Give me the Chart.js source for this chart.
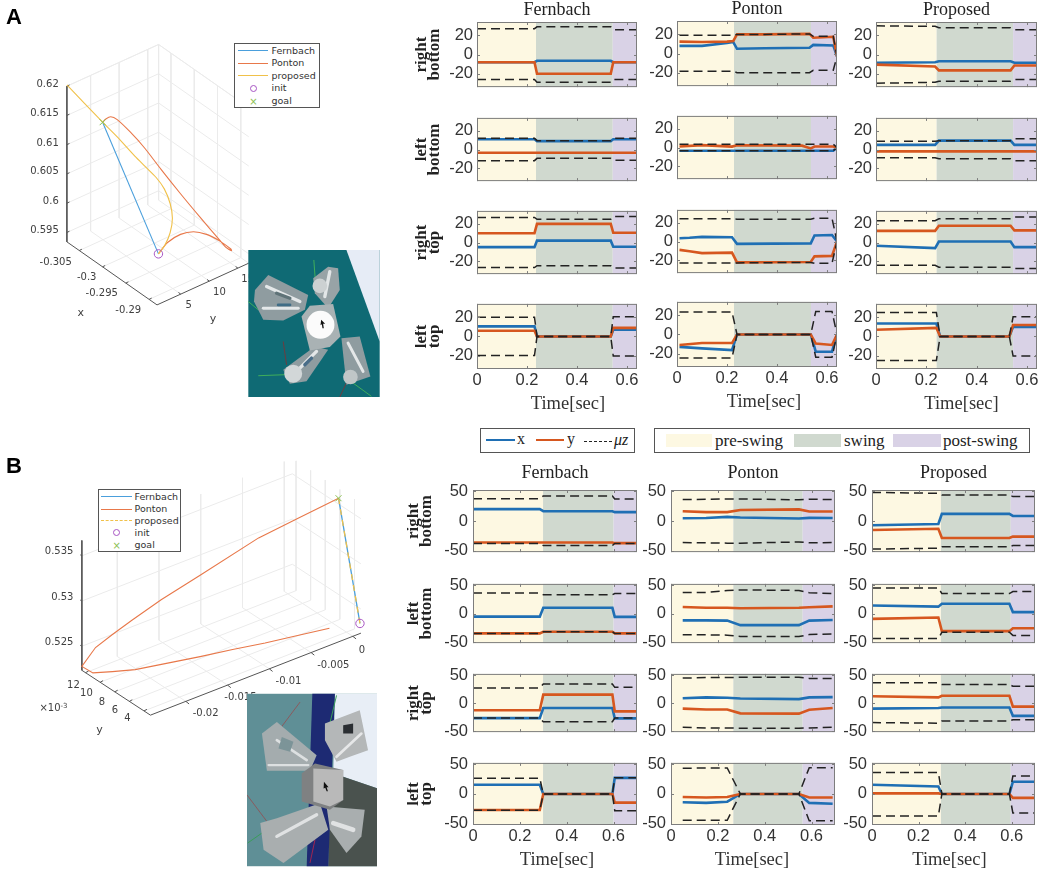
<!DOCTYPE html>
<html><head><meta charset="utf-8">
<script src="https://cdn.jsdelivr.net/npm/chart.js@4"></script>
<style>
html,body{margin:0;padding:0;background:#fff;width:1038px;height:871px;overflow:hidden}
canvas{position:absolute}
.box{position:absolute;box-sizing:border-box;border:1.5px solid #555;background:#fff}
.t{position:absolute;white-space:nowrap;line-height:1}
.s{font-family:"Liberation Serif",serif;font-size:17px;color:#222}
.d{font-family:"DejaVu Sans",sans-serif;font-size:9.5px;color:#333}
.lab{position:absolute;font:bold 22px "Liberation Sans",sans-serif;color:#000;line-height:1}
svg{position:absolute}
</style></head><body>
<div id="root"></div>
<script>
/* ---------- shared tick labels ---------- */
const colTitles=["Fernbach","Ponton","Proposed"];
const rowTitles=[["right","bottom"],["left","bottom"],["right","top"],["left","top"]];
const timeTicks=[0,0.2,0.4,0.6];
const forceTicksA=[-20,0,20];
const forceTicksB=[-50,0,50];
const phaseNames=["pre-swing","swing","post-swing"];
/* ---------- phase boundaries [swing start, swing end] ---------- */
const phaseAF=[.236,.543],phaseAP=[.228,.536],phaseAQ=[.241,.545];
const phaseBF=[.299,.60],phaseBP=[.266,.562],phaseBQ=[.296,.596];

/* ---------- A / Fernbach ---------- */
const tAF=[0,.23,.24,.535,.545,.64];
const AF_RB_x=[-8,-8,-6.5,-6.5,-8,-8],AF_RB_y=[-8,-8,-20,-20,-8,-8],AF_RB_up=[27,27,29,29,26,26],AF_RB_lo=[-26,-26,-29,-29,-26,-26];
const AF_LB_x=[11,11,9,9,11,11],AF_LB_y=[-3.5,-3.5,-3.5,-3.5,-3.5,-3.5],AF_LB_up=[12,12,9.5,9.5,12,12],AF_LB_lo=[-12,-12,-9.5,-9.5,-11.5,-11.5];
const AF_RT_x=[-5,-5,2,2,-4.5,-4.5],AF_RT_y=[10,10,20,20,10.5,10.5],AF_RT_up=[27,27,25,25,28,28],AF_RT_lo=[-27,-27,-25,-25,-27.5,-27.5];
const AF_LT_x=[10.5,10.5,0,0,7,7],AF_LT_y=[6,6,0,0,9,9],AF_LT_up=[20,20,0,0,20.5,20.5],AF_LT_lo=[-20,-20,0,0,-20.5,-20.5];
/* ---------- A / Ponton ---------- */
const tAP_RB=[.01,.1,.2,.225,.24,.35,.53,.545,.625,.64];
const AP_RB_x=[8,8,11,12,5,5.5,6,9,8.5,-3],AP_RB_y=[12.5,12,12.5,13,20,20,20.5,16.5,17.5,-3],AP_RB_up=[19,19,19,19,20,20,20.5,18,18,-3],AP_RB_lo=[-18.5,-18.5,-18.5,-18.5,-20,-20,-20,-17.5,-17.5,-3];
const tAP_LB=[.01,.1,.22,.24,.5,.535,.55,.625,.64];
const AP_LB_x=[-3.5,-3.5,-3.5,-3.5,-3.5,-3.5,-3.5,-3.5,0],AP_LB_y=[1,2.5,1,2.5,2,-1,1,1,0],AP_LB_up=[3.5,3.5,3.5,3.5,3.5,3.5,3.5,3.5,0],AP_LB_lo=[-3.5,-3.5,-3.5,-3.5,-3.5,-3.5,-3.5,-3.5,0];
const tAP_RT=[.01,.05,.1,.22,.24,.535,.55,.62,.64];
const AP_RT_x=[3.5,4,5,4.5,-2.5,-2,6.5,7,0],AP_RT_y=[-9,-10.5,-12.5,-12,-22.5,-22,-16,-15.5,0],AP_RT_up=[24.5,24.5,24.5,24.5,24,24,25,25,0],AP_RT_lo=[-23,-23,-23,-23,-23,-22.5,-23.5,-23.5,0];
const tAP_LT=[.01,.1,.22,.24,.535,.555,.62,.64];
const AP_LT_x=[-13,-14.5,-16.3,0,0,-18,-18,0],AP_LT_y=[-11,-9,-9,0,0,-9.5,-11,0],AP_LT_up=[23.5,23.5,23.5,0,0,24,24,0],AP_LT_lo=[-24.5,-24.5,-24.5,0,0,-23.7,-23.7,0];
/* ---------- A / Proposed ---------- */
const tAQ=[0,.235,.25,.535,.55,.64];
const AQ_RB_x=[-8.5,-8,-7,-7,-8.5,-8.5],AQ_RB_y=[-10.5,-12.5,-16.5,-16.5,-11.5,-11.5],AQ_RB_up=[30,29.5,28,28,26,26],AQ_RB_lo=[-30,-29,-28,-28,-26,-26];
const AQ_LB_x=[5,5,9.5,9.5,5,5],AQ_LB_y=[-2,-2,-2,-2,-2,-2],AQ_LB_up=[9,9,9.5,9.5,11.5,11.5],AQ_LB_lo=[-9,-9,-10,-10,-12,-12];
const AQ_RT_x=[-3.5,-6,1,1,-5,-5],AQ_RT_y=[12.5,12.5,18,18,13,13],AQ_RT_up=[23.5,23.5,25.5,25.5,27.5,27.5],AQ_RT_lo=[-24.5,-24.5,-26.5,-26.5,-28,-28];
const tAQ_LT=[0,.24,.255,.53,.545,.64];
const AQ_LT_x=[13.5,13.5,0,0,10,10],AQ_LT_y=[7,9,0,0,12,12],AQ_LT_up=[25,25,0,0,20.5,20.5],AQ_LT_lo=[-25,-25,0,0,-20.5,-20.5];
/* ---------- B / Fernbach ---------- */
const tBF=[0,.285,.3,.595,.605,.7];
const BF_RB_x=[20,20,16.5,16.5,15,15],BF_RB_y=[-36,-36,-36,-36,-37,-37],BF_RB_up=[37.5,37.5,42,42,37,37],BF_RB_lo=[-37.5,-37.5,-41,-41,-37.5,-37.5];
const BF_LB_x=[-5.5,-5.5,10,10,-6,-6],BF_LB_y=[-35,-35,-32,-32,-35,-35],BF_LB_up=[36,36,33,33,35,35],BF_LB_lo=[-35,-35,-32,-32,-35,-35];
const BF_RT_x=[-27,-27,-9,-9,-27.5,-27.5],BF_RT_y=[-13,-13,15,15,-15,-15],BF_RT_up=[27,27,34,34,28,28],BF_RT_lo=[-27,-27,-33.5,-33.5,-27,-27];
const BF_LT_x=[15.5,15.5,0,0,27,27],BF_LT_y=[-27,-27,0,0,-14.5,-14.5],BF_LT_up=[26.5,26.5,0,0,27,27],BF_LT_lo=[-27.5,-27.5,0,0,-28,-28];
/* ---------- B / Ponton ---------- */
const tBP=[.05,.15,.24,.296,.546,.59,.69];
const BP_RB_x=[4.8,5,7,6,4.3,5.3,5],BP_RB_y=[16.5,15,15,18.5,19.5,16,16],BP_RB_up=[36,36.5,37,37,35.5,36.5,36],BP_RB_lo=[-36,-36.5,-37,-37,-35,-36.5,-36];
const BP_LB_x=[-12,-12,-12.5,-20.5,-20.5,-12.5,-11.5],BP_LB_y=[11.5,10,10,9.3,10,11,12.5],BP_LB_up=[37,37,40.5,41.5,40.5,36.5,35],BP_LB_lo=[-37.5,-37.5,-38,-40.5,-40.5,-37,-36];
const BP_RT_x=[8.5,10,9.5,8,7,10,10.5],BP_RT_y=[-10,-11.7,-11.7,-18.5,-19,-12,-9],BP_RT_up=[44.5,45.5,45.5,46,46,44,44],BP_RT_lo=[-43.5,-44.5,-44.5,-45,-45,-44.5,-43.5];
const BP_LT_x=[-14,-15,-13,0,0,-15,-16.5],BP_LT_y=[-5,-6,-5,0,0,-6,-6],BP_LT_up=[43,43.5,43.5,0,0,44,44],BP_LT_lo=[-44,-44,-44,0,0,-45,-45];
/* ---------- B / Proposed ---------- */
const tBQ=[0,.285,.3,.59,.605,.7];
const BQ_RB_x=[-7,-5,12,12,8.5,8.5],BQ_RB_y=[-15,-13,-28.5,-28.5,-26,-26],BQ_RB_up=[48,46.5,43.5,43.5,41,41],BQ_RB_lo=[-47,-45.5,-43,-43,-41,-41];
const BQ_LB_x=[14,12,17,17,2.5,2.5],BQ_LB_y=[-9.5,-7,-31,-31,-26,-26],BQ_LB_up=[45,45,35,35,38.5,38.5],BQ_LB_lo=[-44,-44,-33,-33,-38.5,-38.5];
const BQ_RT_x=[-10,-9,-8,-8,-23,-23],BQ_RT_y=[12,10,13,13,-6.5,-6.5],BQ_RT_up=[36,36,33,33,30,30],BQ_RT_lo=[-35,-36,-32,-32,-30,-30];
const BQ_LT_x=[15.5,12.5,0,0,20.5,20.5],BQ_LT_y=[1,1,0,0,-6.5,-6.5],BQ_LT_up=[36,36,0,0,30,30],BQ_LT_lo=[-37,-37,0,0,-32,-32];

/* ---------- 3-D views: curves as read in the projected view ---------- */
const A3_fern_h=[472,300],A3_fern_v=[765,360];
const A3_prop_h=[472,492,508,515,508,490,465,430,400,345,300,190];
const A3_prop_v=[765,738,700,655,610,565,530,495,465,405,360,245];
const A3_pont_h=[472,500,540,580,620,660,695,697,680,660,600,540,480,430,385,345,325,310,300];
const A3_pont_v=[765,730,705,697,705,725,750,755,745,722,652,580,505,440,390,352,343,350,360];
const A3_init=[472,765],A3_goal=[300,360];
const B3_fern_h=[1026,1092],B3_fern_v=[163,548];
const B3_pont_h=[1026,900,780,600,480,390,330,278,236,270,330,400,500,600,700,800,900,998];
const B3_pont_v=[163,225,285,400,475,538,582,622,680,700,696,690,670,650,628,608,585,563];
const B3_init=[1092,548],B3_goal=[1026,163];
const A3_xTicks=[-.305,-.3,-.295,-.29],A3_yTicks=[5,10,15],A3_zTicks=[.595,.6,.605,.61,.615,.62];
const B3_xTicks=[-.02,-.015,-.01,-.005,0],B3_yTicks=[4,6,8,10,12],B3_zTicks=[.525,.53,.535];
const curveNames=["Fernbach","Ponton","proposed","init","goal"];

/* ---------- styles ---------- */
const BLUE="#1f6fb4",ORANGE="#d6571f",DASH="#222",PRE="#fdf8e2",SWING="#d0d9cf",POST="#d9d2e6",FRAME="#7d7d7d";
const root=document.getElementById('root');

const decor={id:'decor',
 beforeDatasetsDraw(c,a,o){const {left:l,right:r,top:t,bottom:b}=c.chartArea,x=c.scales.x,g=c.ctx;
  const p0=x.getPixelForValue(o.phase[0]),p1=x.getPixelForValue(o.phase[1]);
  g.save();g.fillStyle=PRE;g.fillRect(l,t,p0-l,b-t);g.fillStyle=SWING;g.fillRect(p0,t,p1-p0,b-t);g.fillStyle=POST;g.fillRect(p1,t,r-p1,b-t);g.restore();},
 afterDatasetsDraw(c,a,o){const {left:l,right:r,top:t,bottom:b}=c.chartArea,g=c.ctx;
  g.save();g.strokeStyle=FRAME;g.lineWidth=1;g.strokeRect(l+.5,t+.5,r-l-1,b-t-1);g.beginPath();
  c.scales.x.ticks.forEach(k=>{const p=Math.round(c.scales.x.getPixelForValue(k.value))+.5;g.moveTo(p,b);g.lineTo(p,b-3);g.moveTo(p,t);g.lineTo(p,t+3);});
  c.scales.y.ticks.forEach(k=>{const p=Math.round(c.scales.y.getPixelForValue(k.value))+.5;g.moveTo(l,p);g.lineTo(l+3,p);g.moveTo(r,p);g.lineTo(r-3,p);});
  g.stroke();
  if(o.timeLabel){g.fillStyle='#333';g.font='18.5px "Liberation Serif",serif';g.textAlign='center';g.textBaseline='middle';g.fillText(o.timeLabel,(l+r)/2+o.dx,b+o.dy);}
  g.restore();}};

function xy(t,v){return t.map((q,i)=>({x:q,y:v[i]}));}
function makeCanvas(l,t,w,h){const c=document.createElement('canvas');c.style.left=l+'px';c.style.top=t+'px';c.style.width=w+'px';c.style.height=h+'px';c.width=w;c.height=h;root.appendChild(c);return c;}

function panel(g,col,row,phase,t,xs,ys,up,lo){
 const L=g.cols[col][0],R=g.cols[col][1],T=g.rows[col][row][0],B=g.rows[col][row][1];
 const isTop=row===0,isBot=row===3,first=col===0;
 const leftW=first?g.leftFirst:42,rightW=4,topH=isTop?g.titleH:12,botH=isBot?g.botH:12;
 const c=makeCanvas(L-leftW,T-topH,leftW+(R-L)+rightW,topH+(B-T)+botH);
 new Chart(c,{type:'scatter',plugins:[decor],
  data:{datasets:[
   {label:'x',order:3,data:xy(t,xs),borderColor:BLUE,borderWidth:2.6,showLine:true,pointRadius:0,tension:0},
   {label:'y',order:2,data:xy(t,ys),borderColor:ORANGE,borderWidth:2.6,showLine:true,pointRadius:0,tension:0},
   {label:'μz',order:1,data:xy(t,up),borderColor:DASH,borderWidth:1.5,borderDash:[9,5],showLine:true,pointRadius:0,tension:0},
   {label:'-μz',order:0,data:xy(t,lo),borderColor:DASH,borderWidth:1.5,borderDash:[9,5],showLine:true,pointRadius:0,tension:0}]},
  options:{responsive:false,animation:false,devicePixelRatio:1,
   layout:{padding:{top:isTop?0:topH,right:rightW,left:0,bottom:0}},
   plugins:{legend:{display:false},tooltip:{enabled:false},decor:{phase,timeLabel:isBot?'Time[sec]':null,dx:g.timeDx[col],dy:g.timeDy},
    title:{display:isTop,fullSize:false,text:colTitles[col],color:'#222',font:{family:'"Liberation Serif",serif',size:18,lineHeight:1,weight:'normal'},padding:g.titlePad}},
   scales:{
    x:{type:'linear',min:0,max:g.xMax,grid:{display:false,drawTicks:false},border:{display:false},
     afterBuildTicks:s=>{s.ticks=timeTicks.map(v=>({value:v}));},
     afterFit:s=>{s.height=botH;},
     ticks:{display:isBot,autoSkip:false,maxRotation:0,padding:2,color:'#333',font:{family:'"Liberation Sans",sans-serif',size:16.5},callback:v=>String(v)}},
    y:{type:'linear',min:-g.yMax,max:g.yMax,grid:{display:false,drawTicks:false},border:{display:false},
     afterBuildTicks:s=>{s.ticks=g.yTicks.map(v=>({value:v}));},
     afterFit:s=>{s.width=leftW;},
     ticks:{padding:g.yPad,color:'#333',font:{family:'"Liberation Sans",sans-serif',size:16.5},callback:v=>String(v)},
     title:{display:first,text:rowTitles[row],color:'#222',padding:0,font:{family:'"Liberation Serif",serif',size:17,weight:'bold',lineHeight:.76}}}
   }}});
}

const gA={cols:[[477,637],[677,837],[876,1037]],
 rows:[[[22,89],[116,183],[209,276],[302,369]],[[21,88],[114,181],[208,275],[300,367]],[[22,89],[116,183],[209,276],[302,369]]],
 leftFirst:62,titleH:22,titlePad:{top:1,bottom:3},botH:46,xMax:.64,yMax:34,yTicks:forceTicksA,yPad:4,timeDx:[11,7,5],timeDy:35};
const gB={cols:[[473,637],[671,835],[872,1035]],
 rows:[[[490,555],[581,646],[671,735],[760,825]],[[490,555],[581,646],[671,735],[760,825]],[[490,555],[581,646],[671,735],[760,825]]],
 leftFirst:66,titleH:30,titlePad:{top:4,bottom:8},botH:47,xMax:.7,yMax:52,yTicks:forceTicksB,yPad:5,timeDx:[2,-1,-4],timeDy:35.5};

panel(gA,0,0,phaseAF,tAF,AF_RB_x,AF_RB_y,AF_RB_up,AF_RB_lo);
panel(gA,0,1,phaseAF,tAF,AF_LB_x,AF_LB_y,AF_LB_up,AF_LB_lo);
panel(gA,0,2,phaseAF,tAF,AF_RT_x,AF_RT_y,AF_RT_up,AF_RT_lo);
panel(gA,0,3,phaseAF,tAF,AF_LT_x,AF_LT_y,AF_LT_up,AF_LT_lo);
panel(gA,1,0,phaseAP,tAP_RB,AP_RB_x,AP_RB_y,AP_RB_up,AP_RB_lo);
panel(gA,1,1,phaseAP,tAP_LB,AP_LB_x,AP_LB_y,AP_LB_up,AP_LB_lo);
panel(gA,1,2,phaseAP,tAP_RT,AP_RT_x,AP_RT_y,AP_RT_up,AP_RT_lo);
panel(gA,1,3,phaseAP,tAP_LT,AP_LT_x,AP_LT_y,AP_LT_up,AP_LT_lo);
panel(gA,2,0,phaseAQ,tAQ,AQ_RB_x,AQ_RB_y,AQ_RB_up,AQ_RB_lo);
panel(gA,2,1,phaseAQ,tAQ,AQ_LB_x,AQ_LB_y,AQ_LB_up,AQ_LB_lo);
panel(gA,2,2,phaseAQ,tAQ,AQ_RT_x,AQ_RT_y,AQ_RT_up,AQ_RT_lo);
panel(gA,2,3,phaseAQ,tAQ_LT,AQ_LT_x,AQ_LT_y,AQ_LT_up,AQ_LT_lo);
panel(gB,0,0,phaseBF,tBF,BF_RB_x,BF_RB_y,BF_RB_up,BF_RB_lo);
panel(gB,0,1,phaseBF,tBF,BF_LB_x,BF_LB_y,BF_LB_up,BF_LB_lo);
panel(gB,0,2,phaseBF,tBF,BF_RT_x,BF_RT_y,BF_RT_up,BF_RT_lo);
panel(gB,0,3,phaseBF,tBF,BF_LT_x,BF_LT_y,BF_LT_up,BF_LT_lo);
panel(gB,1,0,phaseBP,tBP,BP_RB_x,BP_RB_y,BP_RB_up,BP_RB_lo);
panel(gB,1,1,phaseBP,tBP,BP_LB_x,BP_LB_y,BP_LB_up,BP_LB_lo);
panel(gB,1,2,phaseBP,tBP,BP_RT_x,BP_RT_y,BP_RT_up,BP_RT_lo);
panel(gB,1,3,phaseBP,tBP,BP_LT_x,BP_LT_y,BP_LT_up,BP_LT_lo);
panel(gB,2,0,phaseBQ,tBQ,BQ_RB_x,BQ_RB_y,BQ_RB_up,BQ_RB_lo);
panel(gB,2,1,phaseBQ,tBQ,BQ_LB_x,BQ_LB_y,BQ_LB_up,BQ_LB_lo);
panel(gB,2,2,phaseBQ,tBQ,BQ_RT_x,BQ_RT_y,BQ_RT_up,BQ_RT_lo);
panel(gB,2,3,phaseBQ,tBQ,BQ_LT_x,BQ_LT_y,BQ_LT_up,BQ_LT_lo);

/* ---------- 3-D panels ---------- */
const GAP={x:NaN,y:NaN};
function hv(h,v){return h.map((q,i)=>({x:q,y:v[i]}));}
function poly(out,pts){pts.forEach(p=>out.push({x:p[0],y:p[1]}));out.push(GAP);}
const pA=(x,y,z)=>[190+(x+.30766)*14340+(y-.85)*17.6,728+(x+.30766)*10020-(y-.85)*8-(z-.5934)*18000];
const pB=(x,y,z)=>[236+(x+.02424)*25700+(12.5-y)*22.5,692-(x+.02424)*10000+(12.5-y)*14.7-(z-.52234)*27800];

function view(left,top,w,h,datasets,labels){
 const c=makeCanvas(left,top,w,h);
 new Chart(c,{type:'scatter',
  plugins:[{id:'labels3d',afterDatasetsDraw(ch){const g=ch.ctx,X=ch.scales.x,Y=ch.scales.y;g.save();g.fillStyle='#404040';g.textBaseline='middle';
    labels.forEach(l=>{g.font=(l[4]||10)+'px "DejaVu Sans",sans-serif';g.textAlign=l[3]||'center';g.fillText(l[0],X.getPixelForValue(l[1]),Y.getPixelForValue(l[2]));});g.restore();}}],
  data:{datasets},
  options:{responsive:false,animation:false,devicePixelRatio:1,layout:{padding:0},
   plugins:{legend:{display:false},tooltip:{enabled:false}},
   scales:{x:{type:'linear',display:false,min:0,max:w*3},y:{type:'linear',display:false,min:0,max:h*3,reverse:true}}}});
}
function ln(data,color,width,order,extra){return Object.assign({order,data,borderColor:color,borderWidth:width,showLine:true,pointRadius:0,tension:0,spanGaps:false},extra||{});}
function mark(p,style,color){return {order:0,data:[{x:p[0],y:p[1]}],showLine:false,pointStyle:style,pointRadius:4.2,borderColor:color,backgroundColor:'rgba(0,0,0,0)',borderWidth:1};}

/* panel A */
(function(){
 const xmin=-.30766,xmax=-.2883,ymin=.85,ymax=16.9,zmin=.5934,zmax=.62,grid=[],axes=[],ticks=[];
 A3_zTicks.forEach(z=>poly(grid,[pA(xmin,ymin,z),pA(xmin,ymax,z),pA(xmax,ymax,z)]));
 A3_yTicks.concat([ymax]).forEach(y=>{poly(grid,[pA(xmin,y,zmax),pA(xmin,y,zmin),pA(xmax,y,zmin)]);});
 A3_xTicks.forEach(x=>{poly(grid,[pA(x,ymax,zmax),pA(x,ymax,zmin),pA(x,ymin,zmin)]);});
 poly(grid,[pA(xmin,ymin,zmax),pA(xmin,ymax,zmax),pA(xmax,ymax,zmax)]);
 poly(axes,[pA(xmin,ymin,zmax),pA(xmin,ymin,zmin),pA(xmax,ymin,zmin),pA(xmax,ymax,zmin)]);
 A3_zTicks.forEach(z=>{const p=pA(xmin,ymin,z);poly(ticks,[p,[p[0]+8,p[1]-4]]);});
 A3_xTicks.forEach(x=>{const p=pA(x,ymin,zmin);poly(ticks,[p,[p[0]+8,p[1]-4]]);});
 A3_yTicks.forEach(y=>{const p=pA(xmax,y,zmin);poly(ticks,[p,[p[0]-7,p[1]-5]]);});
 const labels=[['0.62',165,245,'right'],['0.615',165,332,'right'],['0.61',165,424,'right'],['0.605',165,512,'right'],['0.6',165,603,'right'],['0.595',165,692,'right'],
  ['-0.305',205,790,'right'],['-0.3',281,838,'right'],['-0.295',347,888,'right'],['-0.29',419,938,'right'],['x',233,948,'center',11],
  ['5',565,925],['10',660,883],['15',747,842],['y',640,967,'center',11]];
 view(0,0,400,420,[
  ln(grid,'#ebebeb',1,9),ln(axes,'#555',1,8),ln(ticks,'#555',1,8),
  ln(hv(A3_fern_h,A3_fern_v),'#4a9fdc',1.1,3),ln(hv(A3_pont_h,A3_pont_v),'#e8784a',1.1,2,{tension:.25}),ln(hv(A3_prop_h,A3_prop_v),'#f0c14a',1.1,1,{tension:.25}),
  mark(A3_init,'circle','#a855c4'),mark(A3_goal,'crossRot','#8cc152')],labels);
})();
/* panel B */
(function(){
 const xmin=-.02424,xmax=.00097,ymin=3.12,ymax=12.5,zmin=.52234,zmax=.5367,grid=[],axes=[],ticks=[];
 B3_zTicks.forEach(z=>poly(grid,[pB(xmin,ymax,z),pB(xmax,ymax,z),pB(xmax,ymin,z)]));
 B3_xTicks.forEach(x=>poly(grid,[pB(x,ymax,zmax),pB(x,ymax,zmin),pB(x,ymin,zmin)]));
 B3_yTicks.forEach(y=>poly(grid,[pB(xmax,y,zmax),pB(xmax,y,zmin),pB(xmin,y,zmin)]));
 poly(axes,[pB(xmin,ymax,zmax),pB(xmin,ymax,zmin),pB(xmin,ymin,zmin),pB(xmax,ymin,zmin)]);
 B3_zTicks.forEach(z=>{const p=pB(xmin,ymax,z);poly(ticks,[p,[p[0]-5,p[1]-3]]);});
 B3_xTicks.forEach(x=>{const p=pB(x,ymin,zmin);poly(ticks,[p,[p[0]+10,p[1]+8]]);});
 B3_yTicks.forEach(y=>{const p=pB(xmin,y,zmin);poly(ticks,[p,[p[0]+9,p[1]-5]]);});
 const labels=[['0.535',210,327,'right'],['0.53',210,467,'right'],['0.525',210,607,'right'],
  ['12',210,737],['10',250,763],['8',298,790],['6',338,815],['4',376,841],['×10',138,810],['-3',181,801,'center',7],['y',290,877,'center',11],
  ['0',1098,630],['-0.005',1010,678],['-0.01',872,727],['-0.015',724,775],['-0.02',617,825]];
 view(0,440,410,431,[
  ln(grid,'#ebebeb',1,9),ln(axes,'#555',1,8),ln(ticks,'#555',1,8),
  ln(hv(B3_pont_h,B3_pont_v),'#e8784a',1.1,3),ln(hv(B3_fern_h,B3_fern_v),'#4a9fdc',1.3,2),ln(hv(B3_fern_h,B3_fern_v),'#f0c14a',1.3,1,{borderDash:[6,5]}),
  mark(B3_init,'circle','#a855c4'),mark(B3_goal,'crossRot','#8cc152')],labels);
})();

/* ---------- legends as page text ---------- */
function el(cls,css,text){const d=document.createElement('div');d.className=cls;d.style.cssText=css;if(text!=null)d.textContent=text;root.appendChild(d);return d;}
function seg(x1,x2,y,color,w,dash){
 if(dash)return el('','position:absolute;left:'+x1+'px;top:'+Math.round(y-w/2)+'px;width:'+(x2-x1)+'px;height:0;border-top:'+w+'px dashed '+color);
 return el('','position:absolute;left:'+x1+'px;top:'+Math.round(y-w/2)+'px;width:'+(x2-x1)+'px;height:'+w+'px;background:'+color);}
function miniLegend(l,t,w,h,ys,sx1,sx2,tx,styles){
 el('box','left:'+l+'px;top:'+t+'px;width:'+w+'px;height:'+h+'px');
 curveNames.forEach((n,i)=>{
  const s=styles[i];
  if(s.t==='l')seg(sx1,sx2,ys[i],s.c,1);
  if(s.t==='dl')seg(sx1,sx2,ys[i],s.c,1,true);
  if(s.t==='o')el('','position:absolute;box-sizing:border-box;left:'+((sx1+sx2)/2-3.5)+'px;top:'+(ys[i]-3.5)+'px;width:7px;height:7px;border:1px solid '+s.c+';border-radius:50%');
  if(s.t==='x')el('t','left:'+((sx1+sx2)/2-4)+'px;top:'+(ys[i]-5)+'px;font:10px "DejaVu Sans";color:'+s.c,'×');
  el('t d','left:'+tx+'px;top:'+(ys[i]-5)+'px',n);
 });
}
miniLegend(234,43,86,65,[50.7,63.3,75.7,88.3,100.7],238.3,268.3,271.5,[{t:'l',c:'#4a9fdc'},{t:'l',c:'#e8784a'},{t:'l',c:'#f0c14a'},{t:'o',c:'#a855c4'},{t:'x',c:'#8cc152'}]);
miniLegend(98,489,83,63,[496.7,509,520.7,532.7,545],101.3,131.7,134.5,[{t:'l',c:'#4a9fdc'},{t:'l',c:'#e8784a'},{t:'dl',c:'#f0c14a'},{t:'o',c:'#a855c4'},{t:'x',c:'#8cc152'}]);

el('box','left:480px;top:428px;width:155px;height:25px');
seg(485.7,515,440,BLUE,2);seg(535.7,564,440,ORANGE,2);seg(584,612,441,DASH,1,true);
el('t s','left:517px;top:431px;font-size:16px','x');
el('t s','left:567px;top:431px;font-size:16px','y');
el('t s','left:614px;top:432px;font-size:16px;font-style:italic','μz');
el('box','left:654px;top:428px;width:376px;height:25px');
[[666,712,PRE,715,0],[794,841,SWING,844,1],[893,941,POST,943,2]].forEach(a=>{
 el('','position:absolute;left:'+a[0]+'px;top:434px;width:'+(a[1]-a[0])+'px;height:13px;background:'+a[2]);
 el('t s','left:'+a[3]+'px;top:432px',phaseNames[a[4]]);
});
el('lab','left:6px;top:6px','A');
el('lab','left:6px;top:455px','B');

/* ---------- robot snapshots (illustrations, not data) ---------- */
function svg(l,t,w,h,vb,body){const d=document.createElement('div');d.innerHTML='<svg xmlns="http://www.w3.org/2000/svg" style="left:'+l+'px;top:'+t+'px" width="'+w+'" height="'+h+'" viewBox="'+vb+'">'+body+'</svg>';root.appendChild(d);}
const limb=(p,c,w)=>'<path d="'+p+'" fill="none" stroke="'+c+'" stroke-width="'+w+'" stroke-linejoin="round" stroke-linecap="round"/>';
const blk=(pts,c)=>'<polygon points="'+pts+'" fill="'+c+'"/>';
svg(248,250,132,147,'745 750 395 442',
 '<defs><filter id="b1"><feGaussianBlur stdDeviation="2"/></filter></defs><rect x="745" y="750" width="395" height="442" fill="#0f6a74"/><polygon points="1040,750 1140,750 1140,1025" fill="#e6ecf6"/>'+
 '<g stroke-width="3" fill="none"><path d="M942 780L946 835M775 1128L855 1125M1060 1150L1115 1190M745 905L775 930" stroke="#3fae5a"/><path d="M850 1025L860 1095M1040 1150L1020 1192" stroke="#6d3b3f"/></g>'+
 '<g filter="url(#b1)">'+
 blk('765,870 805,825 925,885 915,930 850,962 790,960 762,905','#8f9ca0')+
 blk('940,835 985,800 1015,805 1020,870 985,925 945,880','#98a3a6')+
 blk('850,1110 945,1040 985,1050 920,1145 870,1152','#8f9ca0')+
 blk('1025,1015 1080,1010 1112,1130 1040,1155','#8f9ca0')+
 limb('M800 860L900 905',"#e4e8e9",10)+limb('M790 925L895 925',"#e4e8e9",9)+limb('M830 880L870 895',"#5f7378",10)+limb('M835 915L870 915',"#3f6d86",9)+
 limb('M990 815L975 890',"#e2e6e7",10)+limb('M885 1120L950 1055',"#e4e7e8",10)+limb('M1045 1030L1090 1115',"#e4e7e8",9)+limb('M915 1095L935 1075',"#4a6d88",10)+
 '<circle cx="880" cy="1122" r="27" fill="#d2d7d8"/><circle cx="1052" cy="1132" r="22" fill="#c0c6c7"/><circle cx="960" cy="858" r="22" fill="#ccd1d2"/>'+
 '<polygon points="905,950 930,918 1000,912 1022,1010 990,1042 930,1052" fill="#a9b2b4"/><circle cx="962" cy="975" r="42" fill="#fbfbfb"/></g>'+
 '<polygon points="964,960 976,972 970,972 972,985 968,985 966,973 962,976" fill="#111"/>');
svg(247,693,130,174,'740 760 392 520',
 '<defs><filter id="b2"><feGaussianBlur stdDeviation="2"/></filter></defs><rect x="740" y="760" width="392" height="520" fill="#5f8f96"/><polygon points="1005,760 1132,760 1132,1045 1030,1010 1000,1000" fill="#e8eef6"/><polygon points="1030,1010 1132,1045 1132,1280 985,1280 990,1100" fill="#4a524e"/><polygon points="937,760 1005,760 985,1280 920,1280" fill="#1d2a73"/>'+
 '<g stroke-width="3" fill="none"><path d="M840 865L900 785M740 1065L800 1145" stroke="#8a5a5e"/><path d="M742 1210L785 1180M985 870L1010 765" stroke="#3a9d5a"/><path d="M930 1270L945 1200" stroke="#a02550"/></g>'+
 '<g filter="url(#b2)">'+
 blk('785,880 830,845 950,945 930,992 800,992','#a4acae')+limb('M830 900L920 960',"#dde0e1",8)+limb('M805 975L925 975',"#dde0e1",7)+blk('845,890 880,905 870,935 835,925','#7c9498')+
 blk('975,850 1080,810 1105,930 1050,950 1010,965 975,900','#b4b7b8')+blk('1030,855 1060,850 1060,880 1030,880','#2b2f33')+limb('M1010 950L1085 880',"#e6e7e8",8)+
 blk('780,1150 830,1135 960,1090 985,1170 850,1270 790,1230','#a9aeaf')+limb('M830 1190L950 1125',"#e0e2e3",10)+
 blk('980,1100 1095,1110 1085,1190 1040,1240 990,1170','#a9aeaf')+limb('M1000 1150L1060 1170',"#e0e2e3",14)+
 '<polygon points="905,1000 945,970 1030,990 1030,1080 990,1110 905,1085" fill="#7f8182"/><polygon points="940,985 1030,990 1030,1080 990,1100 940,1085" fill="#b9b9b9"/></g>'+
 '<polygon points="972,1025 986,1042 980,1042 984,1054 980,1054 976,1043 971,1046" fill="#111"/>');
</script>
</body></html>
